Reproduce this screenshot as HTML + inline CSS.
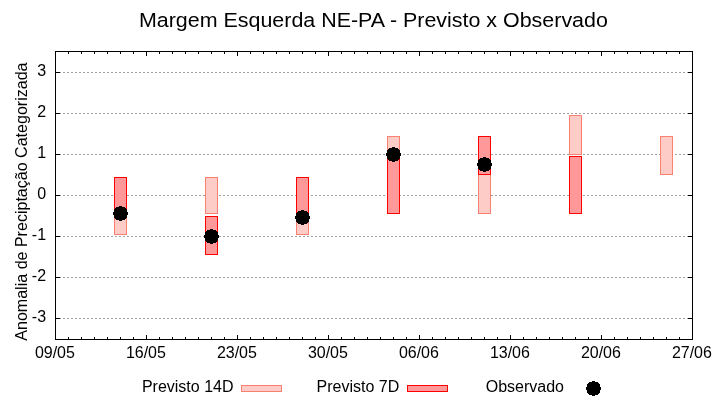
<!DOCTYPE html><html><head><meta charset="utf-8"><title>Margem Esquerda NE-PA - Previsto x Observado</title>
<style>html,body{margin:0;padding:0;background:#fff}svg{display:block}text{font-family:"Liberation Sans",sans-serif;fill:#000}</style></head><body>
<svg width="720" height="400" viewBox="0 0 720 400">
<rect width="720" height="400" fill="#fff"/>
<g stroke="#a0a0a0" stroke-width="1" stroke-dasharray="2 2" shape-rendering="crispEdges">
<line x1="55" y1="72.5" x2="692" y2="72.5"/>
<line x1="55" y1="113.5" x2="692" y2="113.5"/>
<line x1="55" y1="154.5" x2="692" y2="154.5"/>
<line x1="55" y1="195.5" x2="692" y2="195.5"/>
<line x1="55" y1="236.5" x2="692" y2="236.5"/>
<line x1="55" y1="277.5" x2="692" y2="277.5"/>
<line x1="55" y1="318.5" x2="692" y2="318.5"/>
</g>
<g fill="#fdccc7" stroke="#fa8072" stroke-width="1" shape-rendering="crispEdges">
<rect x="114.5" y="177.5" width="12" height="57"/>
<rect x="205.5" y="177.5" width="12" height="36"/>
<rect x="296.5" y="177.5" width="12" height="57"/>
<rect x="387.5" y="136.5" width="12" height="38"/>
<rect x="478.5" y="174.5" width="12" height="39"/>
<rect x="569.5" y="115.5" width="12" height="39"/>
<rect x="660.5" y="136.5" width="12" height="38"/>
</g>
<g fill="#ff9999" stroke="#ff0000" stroke-width="1" shape-rendering="crispEdges">
<rect x="114.5" y="177.5" width="12" height="36"/>
<rect x="205.5" y="216.5" width="12" height="38"/>
<rect x="296.5" y="177.5" width="12" height="36"/>
<rect x="387.5" y="156.5" width="12" height="57"/>
<rect x="478.5" y="136.5" width="12" height="38"/>
<rect x="569.5" y="156.5" width="12" height="57"/>
</g>
<g stroke="#000" stroke-width="1" fill="none" shape-rendering="crispEdges">
<rect x="55.5" y="51.5" width="637" height="288"/>
<line x1="68.5" y1="339" x2="68.5" y2="337"/>
<line x1="68.5" y1="52" x2="68.5" y2="54"/>
<line x1="81.5" y1="339" x2="81.5" y2="337"/>
<line x1="81.5" y1="52" x2="81.5" y2="54"/>
<line x1="94.5" y1="339" x2="94.5" y2="337"/>
<line x1="94.5" y1="52" x2="94.5" y2="54"/>
<line x1="107.5" y1="339" x2="107.5" y2="337"/>
<line x1="107.5" y1="52" x2="107.5" y2="54"/>
<line x1="120.5" y1="339" x2="120.5" y2="337"/>
<line x1="120.5" y1="52" x2="120.5" y2="54"/>
<line x1="133.5" y1="339" x2="133.5" y2="337"/>
<line x1="133.5" y1="52" x2="133.5" y2="54"/>
<line x1="146.5" y1="339" x2="146.5" y2="335"/>
<line x1="146.5" y1="52" x2="146.5" y2="56"/>
<line x1="159.5" y1="339" x2="159.5" y2="337"/>
<line x1="159.5" y1="52" x2="159.5" y2="54"/>
<line x1="172.5" y1="339" x2="172.5" y2="337"/>
<line x1="172.5" y1="52" x2="172.5" y2="54"/>
<line x1="185.5" y1="339" x2="185.5" y2="337"/>
<line x1="185.5" y1="52" x2="185.5" y2="54"/>
<line x1="198.5" y1="339" x2="198.5" y2="337"/>
<line x1="198.5" y1="52" x2="198.5" y2="54"/>
<line x1="211.5" y1="339" x2="211.5" y2="337"/>
<line x1="211.5" y1="52" x2="211.5" y2="54"/>
<line x1="224.5" y1="339" x2="224.5" y2="337"/>
<line x1="224.5" y1="52" x2="224.5" y2="54"/>
<line x1="237.5" y1="339" x2="237.5" y2="335"/>
<line x1="237.5" y1="52" x2="237.5" y2="56"/>
<line x1="250.5" y1="339" x2="250.5" y2="337"/>
<line x1="250.5" y1="52" x2="250.5" y2="54"/>
<line x1="263.5" y1="339" x2="263.5" y2="337"/>
<line x1="263.5" y1="52" x2="263.5" y2="54"/>
<line x1="276.5" y1="339" x2="276.5" y2="337"/>
<line x1="276.5" y1="52" x2="276.5" y2="54"/>
<line x1="289.5" y1="339" x2="289.5" y2="337"/>
<line x1="289.5" y1="52" x2="289.5" y2="54"/>
<line x1="302.5" y1="339" x2="302.5" y2="337"/>
<line x1="302.5" y1="52" x2="302.5" y2="54"/>
<line x1="315.5" y1="339" x2="315.5" y2="337"/>
<line x1="315.5" y1="52" x2="315.5" y2="54"/>
<line x1="328.5" y1="339" x2="328.5" y2="335"/>
<line x1="328.5" y1="52" x2="328.5" y2="56"/>
<line x1="341.5" y1="339" x2="341.5" y2="337"/>
<line x1="341.5" y1="52" x2="341.5" y2="54"/>
<line x1="354.5" y1="339" x2="354.5" y2="337"/>
<line x1="354.5" y1="52" x2="354.5" y2="54"/>
<line x1="367.5" y1="339" x2="367.5" y2="337"/>
<line x1="367.5" y1="52" x2="367.5" y2="54"/>
<line x1="380.5" y1="339" x2="380.5" y2="337"/>
<line x1="380.5" y1="52" x2="380.5" y2="54"/>
<line x1="393.5" y1="339" x2="393.5" y2="337"/>
<line x1="393.5" y1="52" x2="393.5" y2="54"/>
<line x1="406.5" y1="339" x2="406.5" y2="337"/>
<line x1="406.5" y1="52" x2="406.5" y2="54"/>
<line x1="419.5" y1="339" x2="419.5" y2="335"/>
<line x1="419.5" y1="52" x2="419.5" y2="56"/>
<line x1="432.5" y1="339" x2="432.5" y2="337"/>
<line x1="432.5" y1="52" x2="432.5" y2="54"/>
<line x1="445.5" y1="339" x2="445.5" y2="337"/>
<line x1="445.5" y1="52" x2="445.5" y2="54"/>
<line x1="458.5" y1="339" x2="458.5" y2="337"/>
<line x1="458.5" y1="52" x2="458.5" y2="54"/>
<line x1="471.5" y1="339" x2="471.5" y2="337"/>
<line x1="471.5" y1="52" x2="471.5" y2="54"/>
<line x1="484.5" y1="339" x2="484.5" y2="337"/>
<line x1="484.5" y1="52" x2="484.5" y2="54"/>
<line x1="497.5" y1="339" x2="497.5" y2="337"/>
<line x1="497.5" y1="52" x2="497.5" y2="54"/>
<line x1="510.5" y1="339" x2="510.5" y2="335"/>
<line x1="510.5" y1="52" x2="510.5" y2="56"/>
<line x1="523.5" y1="339" x2="523.5" y2="337"/>
<line x1="523.5" y1="52" x2="523.5" y2="54"/>
<line x1="536.5" y1="339" x2="536.5" y2="337"/>
<line x1="536.5" y1="52" x2="536.5" y2="54"/>
<line x1="549.5" y1="339" x2="549.5" y2="337"/>
<line x1="549.5" y1="52" x2="549.5" y2="54"/>
<line x1="562.5" y1="339" x2="562.5" y2="337"/>
<line x1="562.5" y1="52" x2="562.5" y2="54"/>
<line x1="575.5" y1="339" x2="575.5" y2="337"/>
<line x1="575.5" y1="52" x2="575.5" y2="54"/>
<line x1="588.5" y1="339" x2="588.5" y2="337"/>
<line x1="588.5" y1="52" x2="588.5" y2="54"/>
<line x1="601.5" y1="339" x2="601.5" y2="335"/>
<line x1="601.5" y1="52" x2="601.5" y2="56"/>
<line x1="614.5" y1="339" x2="614.5" y2="337"/>
<line x1="614.5" y1="52" x2="614.5" y2="54"/>
<line x1="627.5" y1="339" x2="627.5" y2="337"/>
<line x1="627.5" y1="52" x2="627.5" y2="54"/>
<line x1="640.5" y1="339" x2="640.5" y2="337"/>
<line x1="640.5" y1="52" x2="640.5" y2="54"/>
<line x1="653.5" y1="339" x2="653.5" y2="337"/>
<line x1="653.5" y1="52" x2="653.5" y2="54"/>
<line x1="666.5" y1="339" x2="666.5" y2="337"/>
<line x1="666.5" y1="52" x2="666.5" y2="54"/>
<line x1="679.5" y1="339" x2="679.5" y2="337"/>
<line x1="679.5" y1="52" x2="679.5" y2="54"/>
<line x1="56" y1="72.5" x2="60" y2="72.5"/>
<line x1="692" y1="72.5" x2="688" y2="72.5"/>
<line x1="56" y1="113.5" x2="60" y2="113.5"/>
<line x1="692" y1="113.5" x2="688" y2="113.5"/>
<line x1="56" y1="154.5" x2="60" y2="154.5"/>
<line x1="692" y1="154.5" x2="688" y2="154.5"/>
<line x1="56" y1="195.5" x2="60" y2="195.5"/>
<line x1="692" y1="195.5" x2="688" y2="195.5"/>
<line x1="56" y1="236.5" x2="60" y2="236.5"/>
<line x1="692" y1="236.5" x2="688" y2="236.5"/>
<line x1="56" y1="277.5" x2="60" y2="277.5"/>
<line x1="692" y1="277.5" x2="688" y2="277.5"/>
<line x1="56" y1="318.5" x2="60" y2="318.5"/>
<line x1="692" y1="318.5" x2="688" y2="318.5"/>
</g>
<path fill="#000" shape-rendering="crispEdges" d="M119 206h3v1h-3zM116 207h9v1h-9zM115 208h11v1h-11zM114 209h13v1h-13zM114 210h13v1h-13zM114 211h13v1h-13zM113 212h15v1h-15zM113 213h15v1h-15zM113 214h15v1h-15zM114 215h13v1h-13zM114 216h13v1h-13zM114 217h13v1h-13zM115 218h11v1h-11zM116 219h9v1h-9zM119 220h3v1h-3zM210 229h3v1h-3zM207 230h9v1h-9zM206 231h11v1h-11zM205 232h13v1h-13zM205 233h13v1h-13zM205 234h13v1h-13zM204 235h15v1h-15zM204 236h15v1h-15zM204 237h15v1h-15zM205 238h13v1h-13zM205 239h13v1h-13zM205 240h13v1h-13zM206 241h11v1h-11zM207 242h9v1h-9zM210 243h3v1h-3zM301 210h3v1h-3zM298 211h9v1h-9zM297 212h11v1h-11zM296 213h13v1h-13zM296 214h13v1h-13zM296 215h13v1h-13zM295 216h15v1h-15zM295 217h15v1h-15zM295 218h15v1h-15zM296 219h13v1h-13zM296 220h13v1h-13zM296 221h13v1h-13zM297 222h11v1h-11zM298 223h9v1h-9zM301 224h3v1h-3zM392 147h3v1h-3zM389 148h9v1h-9zM388 149h11v1h-11zM387 150h13v1h-13zM387 151h13v1h-13zM387 152h13v1h-13zM386 153h15v1h-15zM386 154h15v1h-15zM386 155h15v1h-15zM387 156h13v1h-13zM387 157h13v1h-13zM387 158h13v1h-13zM388 159h11v1h-11zM389 160h9v1h-9zM392 161h3v1h-3zM483 157h3v1h-3zM480 158h9v1h-9zM479 159h11v1h-11zM478 160h13v1h-13zM478 161h13v1h-13zM478 162h13v1h-13zM477 163h15v1h-15zM477 164h15v1h-15zM477 165h15v1h-15zM478 166h13v1h-13zM478 167h13v1h-13zM478 168h13v1h-13zM479 169h11v1h-11zM480 170h9v1h-9zM483 171h3v1h-3zM592 381h3v1h-3zM589 382h9v1h-9zM588 383h11v1h-11zM587 384h13v1h-13zM587 385h13v1h-13zM587 386h13v1h-13zM586 387h15v1h-15zM586 388h15v1h-15zM586 389h15v1h-15zM587 390h13v1h-13zM587 391h13v1h-13zM587 392h13v1h-13zM588 393h11v1h-11zM589 394h9v1h-9zM592 395h3v1h-3z"/>
<text transform="translate(373.4,27.1) scale(1.005,0.92)" font-size="21.33" text-anchor="middle">Margem Esquerda NE-PA - Previsto x Observado</text>
<g font-size="16" text-anchor="end">
<text x="46.1" y="75.7">3</text>
<text x="46.1" y="116.7">2</text>
<text x="46.1" y="157.7">1</text>
<text x="46.1" y="198.7">0</text>
<text x="46.1" y="239.7">-1</text>
<text x="46.1" y="280.7">-2</text>
<text x="46.1" y="321.7">-3</text>
</g>
<g font-size="16" text-anchor="middle">
<text x="54.9" y="357.8">09/05</text>
<text x="145.9" y="357.8">16/05</text>
<text x="236.9" y="357.8">23/05</text>
<text x="327.9" y="357.8">30/05</text>
<text x="418.9" y="357.8">06/06</text>
<text x="509.9" y="357.8">13/06</text>
<text x="600.9" y="357.8">20/06</text>
<text x="691.9" y="357.8">27/06</text>
</g>
<text font-size="16" text-anchor="middle" transform="translate(27.3,201.6) rotate(-90) scale(1.003,1)">Anomalia de Preciptação Categorizada</text>
<g font-size="16" text-anchor="end">
<text x="233.5" y="392.4">Previsto 14D</text>
<text x="399.2" y="392.4">Previsto 7D</text>
<text x="564" y="392.4">Observado</text>
</g>
<rect x="241.5" y="385.5" width="40" height="6" fill="#fdccc7" stroke="#fa8072" shape-rendering="crispEdges"/>
<rect x="407.5" y="385.5" width="40" height="6" fill="#ff9999" stroke="#ff0000" shape-rendering="crispEdges"/>
</svg></body></html>
